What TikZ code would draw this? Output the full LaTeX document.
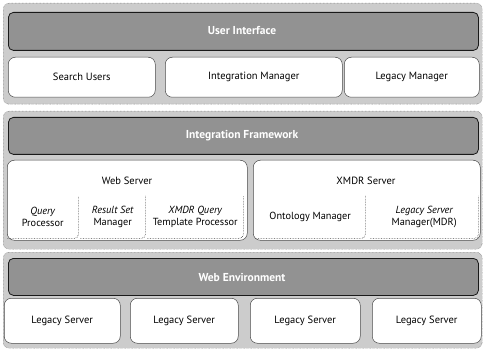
\documentclass[tikz,border=0pt]{standalone}
\usepackage{fontspec}
\setmainfont{PT Sans}
\begin{document}
\begin{tikzpicture}[x=1pt,y=-1pt,
  panel/.style={draw=gray!70!black, densely dotted, fill=gray!40, rounded corners=6pt},
  banner/.style={draw=gray!20!black, fill=gray!58!black!60, rounded corners=5pt, line width=0.8pt},
  btitle/.style={text=white, font=\bfseries\fontsize{11.5}{12}\selectfont},
  wbox/.style={draw=gray!60!black, fill=white, rounded corners=7pt, line width=0.5pt},
  lbl/.style={font=\fontsize{10.5}{12}\selectfont, align=center},
  slbl/.style={font=\fontsize{10.3}{12}\selectfont, align=center},
  sub/.style={draw=gray!55!black, densely dotted, line width=0.6pt}
]
\useasboundingbox (0,0) rectangle (485,350);
\fill[white] (0,0) rectangle (485,350);
% ---- layer 1
\node[panel, minimum width=479pt, minimum height=101pt, anchor=north west, inner sep=0] (p1) at (3,3) {};
\node[banner, minimum width=470pt, minimum height=38pt, anchor=north west, inner sep=0] (b1) at (8,12) {};
\node[btitle] (t1) at (242,31) {User Interface};
\node[wbox, lbl, minimum width=147pt, minimum height=40pt, anchor=north west, inner sep=0] (su) at (8,57) {Search Users};
\node[wbox, lbl, minimum width=177pt, minimum height=40pt, anchor=north west, inner sep=0] (im) at (165,57) {Integration Manager};
\node[wbox, lbl, minimum width=135pt, minimum height=40pt, anchor=north west, inner sep=0] (lm) at (344,57) {Legacy Manager};
% ---- layer 2
\node[panel, minimum width=479pt, minimum height=138pt, anchor=north west, inner sep=0] (p2) at (3,111) {};
\node[banner, minimum width=470pt, minimum height=37pt, anchor=north west, inner sep=0] (b2) at (8,117) {};
\node[btitle] (t2) at (242,136) {Integration Framework};
\node[wbox, minimum width=240pt, minimum height=80pt, anchor=north west, inner sep=0] (ws) at (7,160) {};
\node[wbox, minimum width=227pt, minimum height=80pt, anchor=north west, inner sep=0] (xs) at (253,160) {};
\node[lbl] (wst) at (127,181) {Web Server};
\node[lbl] (xst) at (366,181) {XMDR Server};
% sub boxes
\node[slbl, minimum width=71pt, minimum height=42pt, anchor=north west, inner sep=0] (qp) at (7,196) {\itshape Query\\Processor};
\node[slbl, minimum width=65pt, minimum height=42pt, anchor=north west, inner sep=0] (rs) at (80,196) {\itshape Result Set\\Manager};
\node[slbl, minimum width=96pt, minimum height=42pt, anchor=north west, inner sep=0] (xq) at (147,196) {\itshape XMDR Query\\Template Processor};
\node[slbl, minimum width=110pt, minimum height=42pt, anchor=north west, inner sep=0] (om) at (255,196) {Ontology Manager};
\node[slbl, minimum width=108pt, minimum height=42pt, anchor=north west, inner sep=0] (ls) at (370,196) {\itshape Legacy Server\\Manager(MDR)};
\foreach \n in {qp,rs,xq,om,ls}{
  \draw[sub, rounded corners=4pt] (\n.south west) -- (\n.south east) -- (\n.north east);
}
% ---- layer 3
\node[panel, minimum width=479pt, minimum height=96pt, anchor=north west, inner sep=0] (p3) at (3,252) {};
\node[banner, minimum width=470pt, minimum height=37pt, anchor=north west, inner sep=0] (b3) at (8,258) {};
\node[btitle] (t3) at (242,277) {Web Environment};
\node[wbox, lbl, minimum width=116pt, minimum height=45pt, anchor=north west, inner sep=0] (l1) at (4,298) {Legacy Server};
\node[wbox, lbl, minimum width=108pt, minimum height=45pt, anchor=north west, inner sep=0] (l2) at (130,298) {Legacy Server};
\node[wbox, lbl, minimum width=110pt, minimum height=45pt, anchor=north west, inner sep=0] (l3) at (250,298) {Legacy Server};
\node[wbox, lbl, minimum width=109pt, minimum height=45pt, anchor=north west, inner sep=0] (l4) at (372,298) {Legacy Server};
\end{tikzpicture}
\end{document}
